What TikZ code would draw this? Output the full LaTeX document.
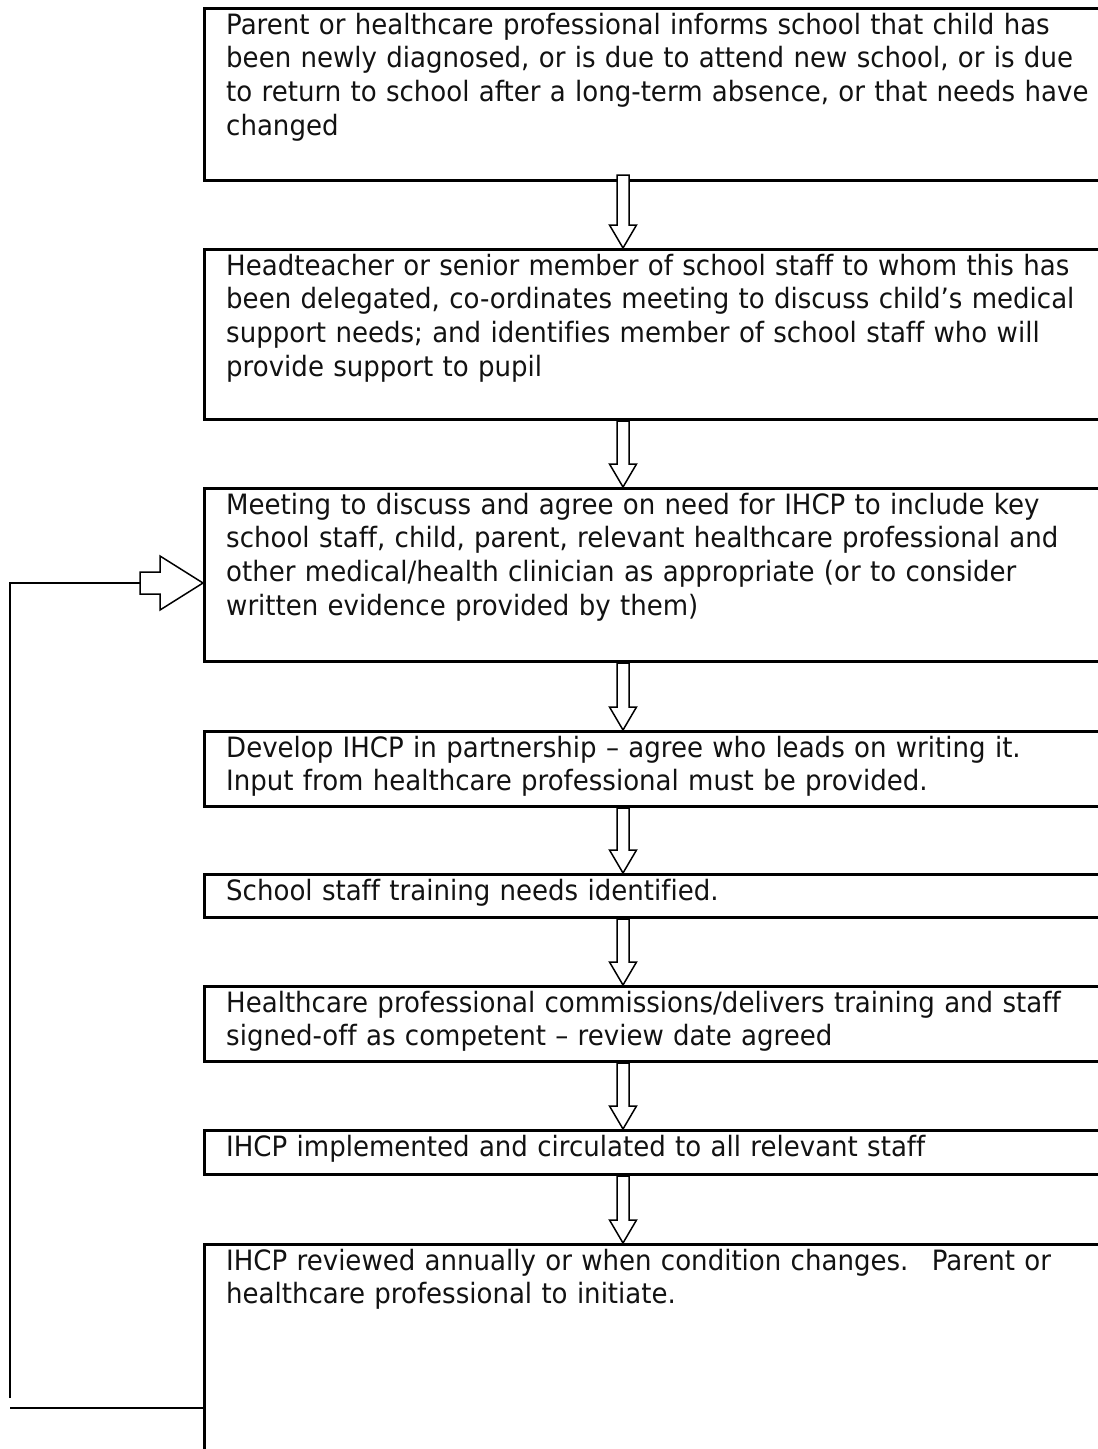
\documentclass[tikz,border=0pt]{standalone}
\usepackage{fontspec}
\setmainfont[FakeStretch=0.93, Ligatures=NoCommon]{DejaVu Sans}
\usetikzlibrary{calc}
\tikzset{
  boxline/.style={draw=black, line width=3pt, inner sep=0pt, anchor=north west, minimum width=920pt},
  boxtext/.style={anchor=base west, inner sep=0pt, text width=1000pt, align=left, text=black!93,
    font=\fontsize{28}{33.7}\selectfont},
  blockarrow/.style={draw=black, fill=white, line width=1.5pt, line join=miter},
  loopline/.style={draw=black, line width=1.8pt},
}
\newcommand\blockdown[3]{%
  \draw[blockarrow] let \p1=(#1.south -| ax), \p2=(#2.north -| ax) in
    (\x1-6pt,\y1+#3) -- (\x1-6pt,\y2+23pt) -- (\x1-13.5pt,\y2+23pt) -- (\x2,\y2)
    -- (\x1+13.5pt,\y2+23pt) -- (\x1+6pt,\y2+23pt) -- (\x1+6pt,\y1+#3) -- cycle;}
\begin{document}
\begin{tikzpicture}[x=1pt, y=-1pt]
\useasboundingbox (0,0) rectangle (1098,1449);
\fill[white] (0,0) rectangle (1098,1449);
\coordinate (ax) at (623,0);

\node[boxline, minimum height=172pt] (b1) at (203,7) {};
\node[boxline, minimum height=170pt] (b2) at (203,248) {};
\node[boxline, minimum height=173pt] (b3) at (203,487) {};
\node[boxline, minimum height=75pt]  (b4) at (203,730) {};
\node[boxline, minimum height=43pt]  (b5) at (203,873) {};
\node[boxline, minimum height=75pt]  (b6) at (203,985) {};
\node[boxline, minimum height=44pt]  (b7) at (203,1129) {};
\node[boxline, minimum height=230pt] (b8) at (203,1243) {};

\node[boxtext] (t1) at ($(b1.north west)+(23,27)$) {Parent or healthcare professional informs school that child has\\
been newly diagnosed, or is due to attend new school, or is due\\
to return to school after a long-term absence, or that needs have\\
changed};
\node[boxtext] (t2) at ($(b2.north west)+(23,27)$) {Headteacher or senior member of school staff to whom this has\\
been delegated, co-ordinates meeting to discuss child’s medical\\
support needs; and identifies member of school staff who will\\
provide support to pupil};
\node[boxtext] (t3) at ($(b3.north west)+(23,27)$) {Meeting to discuss and agree on need for IHCP to include key\\
school staff, child, parent, relevant healthcare professional and\\
other medical/health clinician as appropriate (or to consider\\
written evidence provided by them)};
\node[boxtext] (t4) at ($(b4.north west)+(23,27)$) {Develop IHCP in partnership – agree who leads on writing it.\\
Input from healthcare professional must be provided.};
\node[boxtext] (t5) at ($(b5.north west)+(23,27)$) {School staff training needs identified.};
\node[boxtext] (t6) at ($(b6.north west)+(23,27)$) {Healthcare professional commissions/delivers training and staff\\
signed-off as competent – review date agreed};
\node[boxtext] (t7) at ($(b7.north west)+(23,27)$) {IHCP implemented and circulated to all relevant staff};
\node[boxtext] (t8) at ($(b8.north west)+(23,27)$) {IHCP reviewed annually or when condition changes.~ Parent or\\
healthcare professional to initiate.};

\blockdown{b1}{b2}{7pt}
\blockdown{b2}{b3}{0pt}
\blockdown{b3}{b4}{0pt}
\blockdown{b4}{b5}{0pt}
\blockdown{b5}{b6}{0pt}
\blockdown{b6}{b7}{0pt}
\blockdown{b7}{b8}{0pt}

% feedback loop
\coordinate (tip) at ($(b3.north west)+(0,96)$);
\coordinate (lt) at (10,583);
\coordinate (ls) at (140,583);
\coordinate (lb) at (10,1398);
\coordinate (lbb) at (10,1408);
\coordinate (lbe) at ($(b8.north west)+(0,165)$);
\draw[loopline] (lb) -- (lt) -- (ls);
\draw[loopline] (lbb) -- (lbe);
\draw[blockarrow] let \p1=(tip) in
  (\x1-63pt,\y1+11pt) -- (\x1-43pt,\y1+11pt) -- (\x1-43pt,\y1+27pt) -- (\p1)
  -- (\x1-43pt,\y1-27pt) -- (\x1-43pt,\y1-11pt) -- (\x1-63pt,\y1-11pt) -- cycle;
\end{tikzpicture}
\end{document}
